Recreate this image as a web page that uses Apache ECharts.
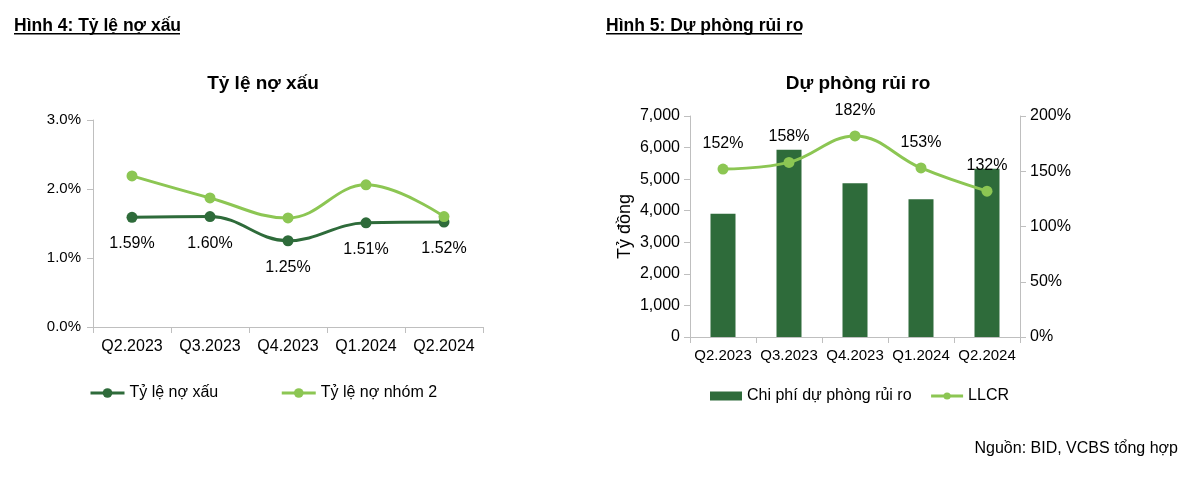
<!DOCTYPE html>
<html>
<head>
<meta charset="utf-8">
<script src="https://cdn.jsdelivr.net/npm/echarts@6/dist/echarts.min.js"></script>
<style>
html,body{margin:0;padding:0;background:#fff;}
#c{width:1200px;height:486px;}
</style>
</head>
<body>
<div id="c"></div>
<script>
var categories = ['Q2.2023','Q3.2023','Q4.2023','Q1.2024','Q2.2024'];
var nplRatio = [1.59, 1.60, 1.25, 1.51, 1.52];
var group2Ratio = [2.19, 1.87, 1.58, 2.06, 1.60];
var provisionCost = [3900, 5930, 4870, 4360, 5330];
var llcr = [152, 158, 182, 153, 132];
var leftTicks = [0, 1, 2, 3];
var rightTicksLeftAxis = [0, 1000, 2000, 3000, 4000, 5000, 6000, 7000];
var rightTicksRightAxis = [0, 50, 100, 150, 200];

var DARK = '#2e6b3a';
var LIGHT = '#8cc653';
var AX = '#bfbfbf';
var FONT = '"Liberation Sans", Arial, sans-serif';
var NARROW = '"Liberation Sans Narrow", "Arial Narrow", "Liberation Sans", sans-serif';

var chart = echarts.init(document.getElementById('c'), null, {renderer:'canvas'});
function lbl(size, extra){ return Object.assign({color:'#000', fontSize:size, fontFamily:FONT}, extra||{}); }
var option = {
  backgroundColor:'#fff',
  animation:false,
  textStyle:{fontFamily:FONT},
  title:[
    {text:'Tỷ lệ nợ xấu', left:258, top:69, textAlign:'center', textStyle:{fontSize:19, fontWeight:'bold', color:'#000', fontFamily:FONT}},
    {text:'Dự phòng rủi ro', left:853, top:69, textAlign:'center', textStyle:{fontSize:19, fontWeight:'bold', color:'#000', fontFamily:FONT}}
  ],
  graphic:[
    {type:'text', left:14, top:17, style:{text:'Hình 4: Tỷ lệ nợ xấu', font:'bold 17.5px '+NARROW, fill:'#000'}},
    {type:'rect', shape:{x:14, y:33, width:166, height:1.5}, style:{fill:'#000'}},
    {type:'text', left:606, top:17, style:{text:'Hình 5: Dự phòng rủi ro', font:'bold 17.5px '+NARROW, fill:'#000'}},
    {type:'rect', shape:{x:606, y:33, width:196, height:1.5}, style:{fill:'#000'}},
    {type:'text', right:22, top:441, style:{text:'Nguồn: BID, VCBS tổng hợp', font:'16px '+FONT, fill:'#000', align:'right'}}
  ],
  legend:[
    {left:84, top:380, itemWidth:34, itemHeight:12, itemGap:62, lineStyle:{width:3}, textStyle:{fontSize:16, color:'#000', fontFamily:FONT},
     data:['Tỷ lệ nợ xấu','Tỷ lệ nợ nhóm 2']},
    {left:705, top:383, itemWidth:32, itemHeight:9, itemGap:18, lineStyle:{width:3}, textStyle:{fontSize:16, color:'#000', fontFamily:FONT},
     data:[{name:'Chi phí dự phòng rủi ro', icon:'rect'}, {name:'LLCR', itemStyle:{}}]}
  ],
  grid:[
    {left:93, right:717, top:120, bottom:159},
    {left:690, right:180, top:116, bottom:149}
  ],
  xAxis:[
    {type:'category', gridIndex:0, data:categories, axisLine:{lineStyle:{color:AX}}, axisTick:{show:true, length:6, lineStyle:{color:AX}}, axisLabel:lbl(16, {margin:12, interval:0})},
    {type:'category', gridIndex:1, data:categories, axisLine:{lineStyle:{color:AX}}, axisTick:{show:true, length:6, lineStyle:{color:AX}}, axisLabel:lbl(15, {margin:11, interval:0, hideOverlap:false})}
  ],
  yAxis:[
    {type:'value', gridIndex:0, min:leftTicks[0], max:leftTicks[leftTicks.length-1], interval:1,
     axisLine:{show:true, lineStyle:{color:AX}}, axisTick:{show:true, length:6, lineStyle:{color:AX}}, splitLine:{show:false},
     axisLabel:lbl(15, {margin:12, formatter:function(v){return v.toFixed(1)+'%';}})},
    {type:'value', gridIndex:1, min:rightTicksLeftAxis[0], max:rightTicksLeftAxis[rightTicksLeftAxis.length-1], interval:1000,
     name:'Tỷ đồng', nameLocation:'middle', nameRotate:90, nameGap:56, nameTextStyle:{fontSize:18, color:'#000', fontFamily:FONT},
     axisLine:{show:true, lineStyle:{color:AX}}, axisTick:{show:true, length:6, lineStyle:{color:AX}}, splitLine:{show:false},
     axisLabel:lbl(16, {margin:10, formatter:function(v){return v.toLocaleString('en-US');}})},
    {type:'value', gridIndex:1, position:'right', min:rightTicksRightAxis[0], max:rightTicksRightAxis[rightTicksRightAxis.length-1], interval:50,
     axisLine:{show:true, lineStyle:{color:AX}}, axisTick:{show:true, length:6, lineStyle:{color:AX}}, splitLine:{show:false},
     axisLabel:lbl(16, {margin:10, formatter:function(v){return v+'%';}})}
  ],
  series:[
    {name:'Tỷ lệ nợ xấu', type:'line', xAxisIndex:0, yAxisIndex:0, data:nplRatio, smooth:0.4,
     symbol:'circle', symbolSize:11, lineStyle:{width:3, color:DARK}, itemStyle:{color:DARK},
     label:{show:true, position:'bottom', distance:13, fontSize:16, color:'#000', fontFamily:FONT, formatter:function(p){return p.value.toFixed(2)+'%';}}},
    {name:'Tỷ lệ nợ nhóm 2', type:'line', xAxisIndex:0, yAxisIndex:0, data:group2Ratio, smooth:0.4,
     symbol:'circle', symbolSize:11, lineStyle:{width:3, color:LIGHT}, itemStyle:{color:LIGHT}},
    {name:'Chi phí dự phòng rủi ro', type:'bar', xAxisIndex:1, yAxisIndex:1, data:provisionCost, barWidth:25,
     itemStyle:{color:DARK}},
    {name:'LLCR', type:'line', xAxisIndex:1, yAxisIndex:2, data:llcr, smooth:0.4,
     symbol:'circle', symbolSize:11, lineStyle:{width:3, color:LIGHT}, itemStyle:{color:LIGHT},
     label:{show:true, position:'top', distance:12, fontSize:16, color:'#000', fontFamily:FONT, formatter:function(p){return p.value+'%';}}}
  ]
};
chart.setOption(option);
</script>
</body>
</html>
